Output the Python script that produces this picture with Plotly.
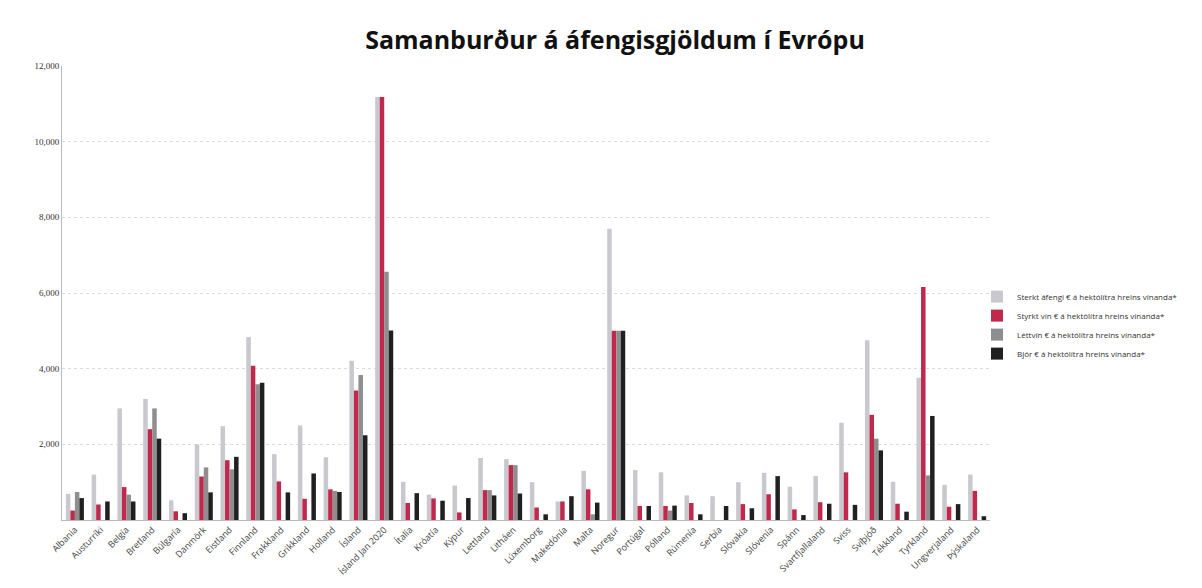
import plotly.graph_objects as go

countries = ["Albania", "Austurríki", "Belgía", "Bretland", "Búlgaría", "Danmörk", "Eistland",
             "Finnland", "Frakkland", "Grikkland", "Holland", "Ísland", "Ísland Jan 2020", "Ítalía",
             "Króatía", "Kýpur", "Lettland", "Litháen", "Lúxemborg", "Makedónía", "Malta", "Noregur",
             "Portúgal", "Pólland", "Rúmenía", "Serbía", "Slóvakía", "Slóvenía", "Spánn",
             "Svartfjallaland", "Sviss", "Svíþjóð", "Tékkland", "Tyrkland", "Ungverjaland", "Þýskaland"]

sterkt = [690, 1200, 2950, 3200, 520, 2000, 2480, 4840, 1740, 2500, 1660, 4210, 11180, 1010,
          670, 910, 1640, 1610, 1000, 490, 1300, 7700, 1320, 1260, 650, 630, 1000, 1250, 880,
          1160, 2570, 4750, 1010, 3760, 930, 1200]
styrkt = [250, 410, 870, 2400, 230, 1150, 1580, 4080, 1020, 560, 810, 3420, 11180, 450,
          570, 200, 790, 1450, 330, 490, 810, 5000, 370, 370, 450, 0, 420, 680, 280,
          470, 1260, 2780, 430, 6160, 350, 770]
lettvin = [740, 0, 670, 2950, 0, 1390, 1340, 3590, 0, 0, 770, 3830, 6560, 0,
           0, 0, 790, 1450, 0, 0, 150, 5000, 0, 250, 0, 0, 0, 0, 0,
           0, 0, 2150, 0, 1180, 0, 0]
bjor = [580, 490, 490, 2150, 180, 730, 1670, 3630, 730, 1230, 740, 2240, 5010, 710,
        510, 580, 650, 700, 150, 630, 460, 5000, 370, 380, 150, 370, 310, 1160, 130,
        430, 400, 1840, 220, 2750, 420, 100]

series = [
    ("Sterkt áfengi € á hektólítra hreins vínanda*", sterkt, "#c9c8ce"),
    ("Styrkt vín € á hektólítra hreins vínanda*", styrkt, "#c0284c"),
    ("Léttvín € á hektólítra hreins vínanda*", lettvin, "#8e8e90"),
    ("Bjór € á hektólítra hreins vínanda*", bjor, "#202020"),
]

fig = go.Figure()
for name, vals, col in series:
    fig.add_trace(go.Bar(x=countries, y=vals, name=name, marker_color=col,
                         marker_line_width=0))

fig.update_layout(
    width=1202, height=588,
    barmode="group", bargap=0.3, bargroupgap=0.0,
    paper_bgcolor="white", plot_bgcolor="white",
    margin=dict(l=54, r=220, t=58, b=76, autoexpand=False),
    title=dict(text="<b>Samanburður á áfengisgjöldum í Evrópu</b>", x=0.505, xanchor="center",
               y=0.946, yanchor="middle",
               font=dict(family="Open Sans", size=25, color="#111111")),
    font=dict(family="Open Sans", color="#333333"),
    legend=dict(x=0.986, y=0.524, xanchor="left", yanchor="top",
                font=dict(size=8, color="#333333"), itemwidth=30, tracegroupgap=1,
                bgcolor="rgba(0,0,0,0)"),
    showlegend=True,
)
fig.update_xaxes(tickangle=-45, tickfont=dict(size=9, color="#444444"), automargin=False,
                 showline=True, linecolor="#bbbbbb", ticks="", showgrid=False)
fig.update_yaxes(range=[0, 12000], tickvals=[2000, 4000, 6000, 8000, 10000, 12000],
                 ticktext=["2,000", "4,000", "6,000", "8,000", "10,000", "12,000"],
                 tickfont=dict(family="Liberation Serif", size=9, color="#333333"),
                 showgrid=True, gridcolor="#dcdcdc", griddash="dot", gridwidth=1, automargin=False,
                 showline=True, linecolor="#bbbbbb", zeroline=False, ticklen=0)

fig.write_html("out.html")
